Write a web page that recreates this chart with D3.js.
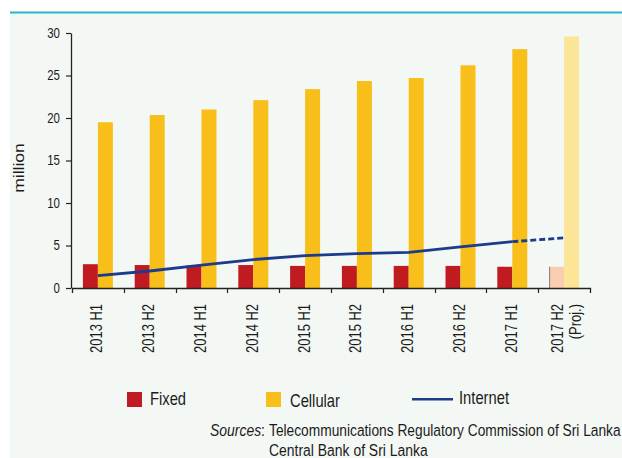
<!DOCTYPE html>
<html>
<head>
<meta charset="utf-8">
<script src="https://cdn.jsdelivr.net/npm/d3@7"></script>
<style>
  html, body { margin: 0; padding: 0; background: #ffffff; }
  svg { display: block; }
  text { font-family: "Liberation Sans", Arial, sans-serif; fill: #1b1b1b; }
</style>
</head>
<body>
<svg id="chart" width="622" height="458"></svg>
<script>
// Telecommunication subscriptions in Sri Lanka, million
const periods  = ["2013 H1", "2013 H2", "2014 H1", "2014 H2", "2015 H1",
                  "2015 H2", "2016 H1", "2016 H2", "2017 H1", "2017 H2"];
const projectedPeriod = "2017 H2";
const projectedNote = "(Proj.)";
const fixed    = [2.8, 2.7, 2.65, 2.7, 2.6, 2.6, 2.6, 2.6, 2.5, 2.5];
const cellular = [19.5, 20.35, 21.0, 22.1, 23.4, 24.35, 24.7, 26.2, 28.1, 29.6];
const internet = [1.45, 2.0, 2.7, 3.35, 3.8, 4.05, 4.2, 4.85, 5.45, 5.9];
const yTicks   = [0, 5, 10, 15, 20, 25, 30];
const yLabel   = "million";
const legendItems = ["Fixed", "Cellular", "Internet"];
const sourceLead = "Sources";
const sourceLines = ["Telecommunications Regulatory Commission of Sri Lanka",
                     "Central Bank of Sri Lanka"];

const colors = {
  fixed: "#c11b22", fixedProj: "#f9cdb0",
  cellular: "#f8bf1a", cellularProj: "#fde597",
  internet: "#1c3b8a", axis: "#222222",
  panel: "#f4f8f5", rule: "#27b5cd"
};

// condensed lettering: regular face squeezed along the reading direction
const NARROW = 0.82;

const svg = d3.select("#chart");

// panel background and top rule
svg.append("rect").attr("x", 10).attr("y", 13).attr("width", 612).attr("height", 445)
  .attr("fill", colors.panel);
svg.append("line").attr("x1", 10).attr("x2", 622).attr("y1", 12.5).attr("y2", 12.5)
  .attr("stroke", colors.rule).attr("stroke-width", 2);

const x = d3.scaleBand().domain(periods).range([72, 590]).padding(0);
const y = d3.scaleLinear().domain([0, 30]).range([288, 33]);
const barW = 15;
const cx = p => x(p) + x.bandwidth() / 2;

const rows = periods.map((p, i) => ({
  period: p, fixed: fixed[i], cellular: cellular[i], internet: internet[i],
  proj: p === projectedPeriod
}));

// bars
const bars = svg.append("g");
bars.selectAll("rect.fixed").data(rows).join("rect")
  .attr("class", "fixed")
  .attr("x", d => cx(d.period) - barW)
  .attr("y", d => y(d.fixed))
  .attr("width", barW)
  .attr("height", d => y(0) - y(d.fixed))
  .attr("fill", d => d.proj ? colors.fixedProj : colors.fixed);
// thin edge on the projected fixed bar
bars.selectAll("line.projEdge").data(rows.filter(d => d.proj)).join("line")
  .attr("class", "projEdge")
  .attr("x1", d => cx(d.period) - barW + 0.5).attr("x2", d => cx(d.period) - barW + 0.5)
  .attr("y1", d => y(d.fixed)).attr("y2", y(0))
  .attr("stroke", "#8c7d74").attr("stroke-width", 1);
bars.selectAll("rect.cell").data(rows).join("rect")
  .attr("class", "cell")
  .attr("x", d => cx(d.period))
  .attr("y", d => y(d.cellular))
  .attr("width", barW)
  .attr("height", d => y(0) - y(d.cellular))
  .attr("fill", d => d.proj ? colors.cellularProj : colors.cellular);

// internet line: solid for actuals, dashed to the projection
const line = d3.line().x(d => cx(d.period)).y(d => y(d.internet));
const actual = rows.filter(d => !d.proj);
const projSeg = rows.slice(rows.length - 2);
svg.append("path").datum(actual).attr("d", line)
  .attr("fill", "none").attr("stroke", colors.internet).attr("stroke-width", 2.8)
  .attr("stroke-linejoin", "round");
svg.append("path").datum(projSeg).attr("d", line)
  .attr("fill", "none").attr("stroke", colors.internet).attr("stroke-width", 2.8)
  .attr("stroke-dasharray", "6,3");

// y axis
const yAxis = svg.append("g").attr("transform", "translate(71,0)")
  .call(d3.axisLeft(y).tickValues(yTicks).tickSize(5).tickSizeOuter(0).tickPadding(6));
yAxis.select(".domain").attr("stroke", colors.axis).attr("stroke-width", 1.3);
yAxis.selectAll(".tick line").attr("stroke", colors.axis).attr("stroke-width", 1.2);
yAxis.selectAll(".tick text")
  .attr("font-size", 14).attr("fill", "#1b1b1b")
  .style("font-family", "'Liberation Sans', Arial, sans-serif")
  .attr("x", -11 / NARROW)
  .attr("transform", `scale(${NARROW},1)`);

// x axis with ticks on category boundaries
const xAxis = svg.append("g").attr("transform", "translate(0,288)")
  .call(d3.axisBottom(x).tickValues([]).tickSizeOuter(5));
xAxis.select(".domain").attr("stroke", colors.axis).attr("stroke-width", 1.3);
xAxis.selectAll("line.bound").data(periods.slice(1)).join("line")
  .attr("class", "bound")
  .attr("x1", p => Math.round(x(p)) + 0.5).attr("x2", p => Math.round(x(p)) + 0.5)
  .attr("y1", 0).attr("y2", 5)
  .attr("stroke", colors.axis).attr("stroke-width", 1.2);

// rotated category labels
const labels = svg.append("g");
rows.forEach(d => {
  const t = labels.append("text")
    .attr("transform", `translate(${cx(d.period) - 1},304) rotate(-90) scale(${NARROW},1)`)
    .attr("text-anchor", "end").attr("font-size", 15.8);
  if (d.proj) {
    t.append("tspan").attr("x", 0).attr("y", -6).attr("dy", "0.35em").text(d.period);
    t.append("tspan").attr("x", 0).attr("y", 12).attr("dy", "0.35em").text(projectedNote);
  } else {
    t.attr("dy", "0.35em").text(d.period);
  }
});

// y axis title
svg.append("text")
  .attr("transform", "translate(24,168) rotate(-90) scale(1,0.85)")
  .attr("text-anchor", "middle")
  .attr("font-size", 17.5).text(yLabel);

// legend
const legend = svg.append("g").attr("font-size", 18);
const narrowAt = (sel, px, py, s = NARROW) =>
  sel.attr("transform", `translate(${px},${py}) scale(${s},1)`);
legend.append("rect").attr("x", 127).attr("y", 392).attr("width", 15).attr("height", 15)
  .attr("fill", colors.fixed);
narrowAt(legend.append("text"), 150, 405).text(legendItems[0]);
legend.append("rect").attr("x", 266).attr("y", 392).attr("width", 15).attr("height", 15)
  .attr("fill", colors.cellular);
narrowAt(legend.append("text"), 290, 406.5).text(legendItems[1]);
legend.append("line").attr("x1", 412).attr("x2", 453).attr("y1", 399.3).attr("y2", 399.3)
  .attr("stroke", colors.internet).attr("stroke-width", 2.6);
narrowAt(legend.append("text"), 459, 403.5).text(legendItems[2]);

// sources note: italic lead, then both source lines aligned at a common indent
const src = svg.append("g").attr("font-size", 17);
const srcX = 210, indent = 269;
const leadText = narrowAt(src.append("text"), srcX, 436);
leadText.append("tspan").attr("font-style", "italic").text(sourceLead);
leadText.append("tspan").text(":");
const l1 = src.append("text").text(sourceLines[0]);
const w1 = l1.node().getComputedTextLength();
narrowAt(l1, indent, 436, Math.min(NARROW, (621 - indent) / w1));
narrowAt(src.append("text"), indent, 455.5).text(sourceLines[1]);
</script>
</body>
</html>
